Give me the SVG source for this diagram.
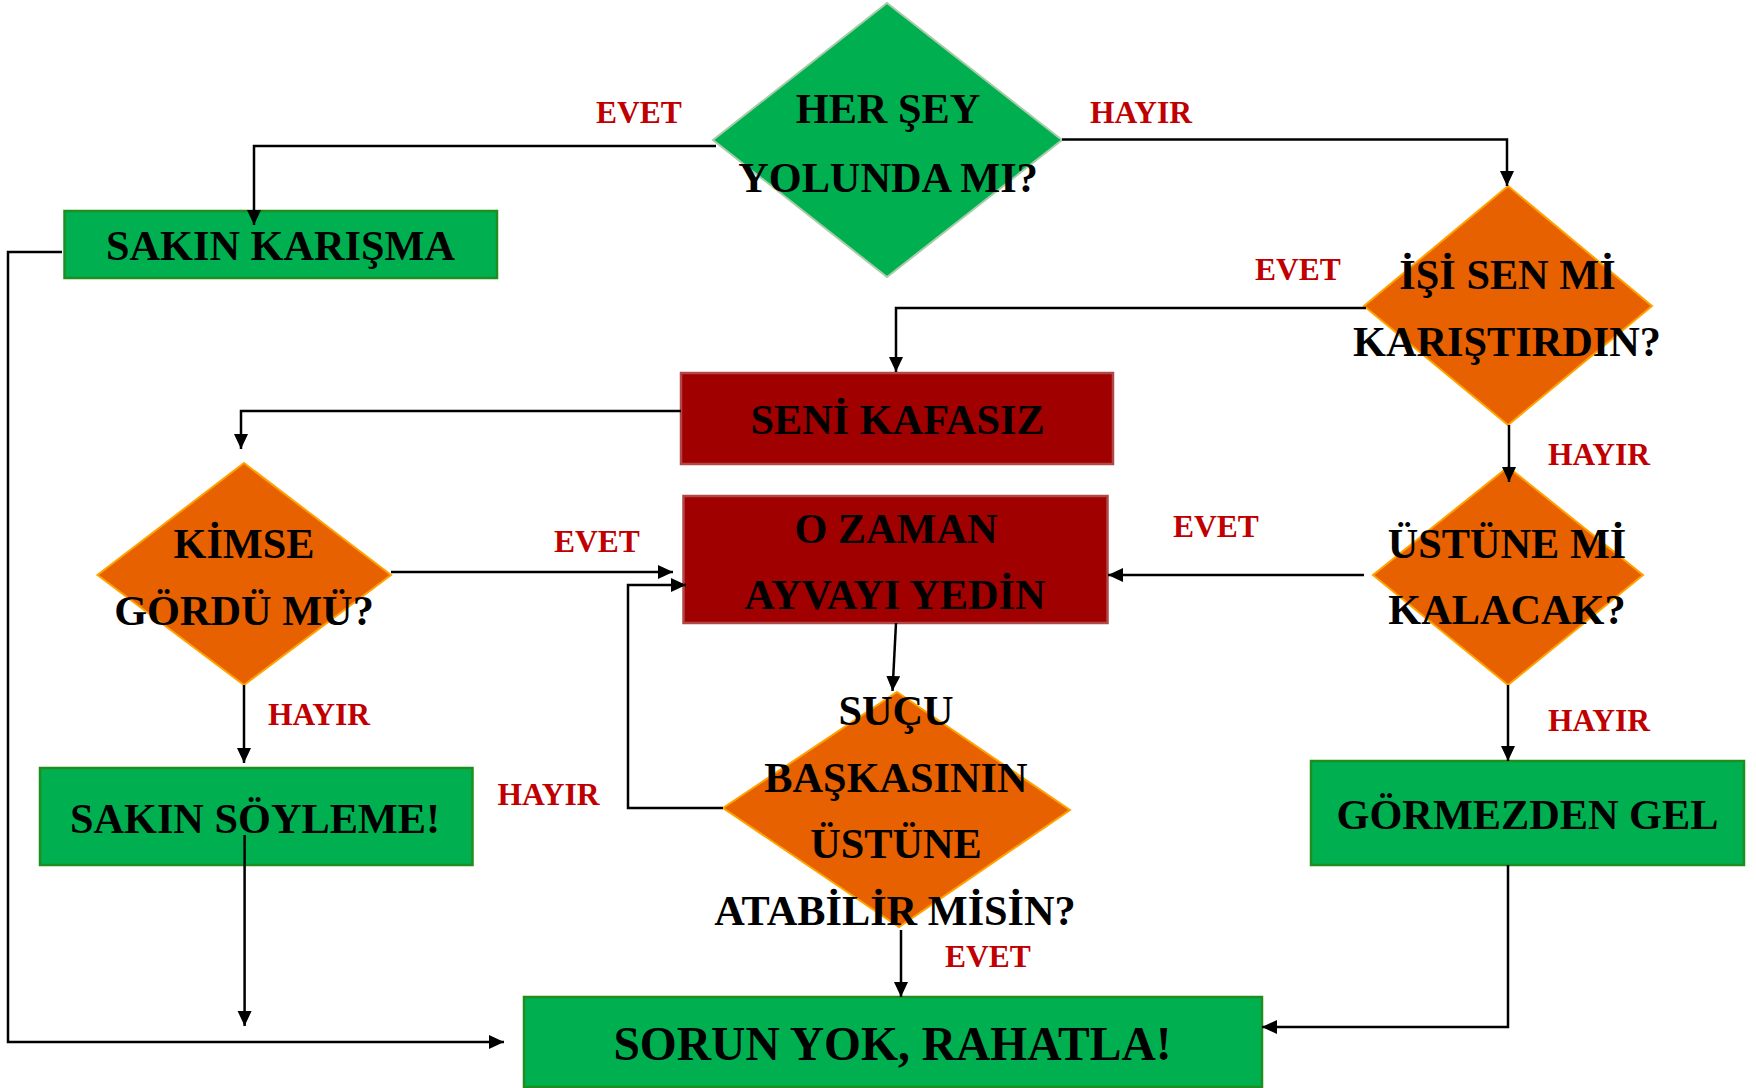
<svg xmlns="http://www.w3.org/2000/svg" width="1756" height="1088" viewBox="0 0 1756 1088">
  <style>
    .t { font-family: "Liberation Serif", "Times New Roman", serif; font-weight: bold; font-size: 42.3px; fill: #000; text-anchor: middle; }
    .big { font-size: 47.5px; }
    .lbl { font-family: "Liberation Serif", "Times New Roman", serif; font-weight: bold; font-size: 31.5px; fill: #C00000; }
    .green { fill: #00B050; stroke: #1E8F1E; stroke-width: 2.5; }
    .gdia { fill: #00B050; stroke: #A9CBA9; stroke-width: 2; }
    .red { fill: #A00000; stroke: #B04848; stroke-width: 2.5; }
    .orange { fill: #E86100; stroke: #FFA200; stroke-width: 2; }
    .link { fill: none; stroke: #000; stroke-width: 2.5; }
  </style>
  <defs>
    <marker id="arrow" markerUnits="userSpaceOnUse" markerWidth="16" markerHeight="16" refX="15" refY="7" orient="auto">
      <path d="M0,0 L15,7 L0,14 Z" fill="#000"/>
    </marker>
  </defs>
  <rect width="1756" height="1088" fill="#fff"/>

  <!-- decision: is everything fine -->
  <g id="n-her-sey">
    <polygon class="gdia" points="887,3 1062,140 887,277 713,140"/>
    <text class="t" x="888" y="123">HER ŞEY</text>
    <text class="t" x="888" y="192">YOLUNDA MI?</text>
  </g>

  <g id="n-sakin-karisma">
    <rect class="green" x="64.5" y="211" width="432.5" height="67"/>
    <text class="t" x="280.5" y="260">SAKIN KARIŞMA</text>
  </g>

  <!-- decision: did you mess it up -->
  <g id="n-isi-sen-mi">
    <polygon class="orange" points="1508,186 1652,306 1508,425 1364,306"/>
    <text class="t" x="1507.5" y="289">İŞİ SEN Mİ</text>
    <text class="t" x="1507" y="356">KARIŞTIRDIN?</text>
  </g>

  <g id="n-seni-kafasiz">
    <rect class="red" x="681" y="373" width="432" height="91"/>
    <text class="t" x="897.5" y="434">SENİ KAFASIZ</text>
  </g>

  <g id="n-kimse">
    <polygon class="orange" points="244,463 391,575 244,685 97.5,575"/>
    <text class="t" x="244" y="558">KİMSE</text>
    <text class="t" x="244" y="625">GÖRDÜ MÜ?</text>
  </g>

  <g id="n-o-zaman">
    <rect class="red" x="683.5" y="496" width="424" height="127"/>
    <text class="t" x="896" y="543">O ZAMAN</text>
    <text class="t" x="895" y="609">AYVAYI YEDİN</text>
  </g>

  <g id="n-ustune-mi">
    <polygon class="orange" points="1508,467 1643,575 1508,685 1373,575"/>
    <text class="t" x="1507" y="558">ÜSTÜNE Mİ</text>
    <text class="t" x="1507" y="624">KALACAK?</text>
  </g>

  <g id="n-sucu">
    <polygon class="orange" points="897,692 1070,810 899,927 723,808"/>
    <text class="t" x="896" y="725">SUÇU</text>
    <text class="t" x="896" y="792">BAŞKASININ</text>
    <text class="t" x="896" y="858">ÜSTÜNE</text>
    <text class="t" x="895" y="925">ATABİLİR MİSİN?</text>
  </g>

  <g id="n-sakin-soyleme">
    <rect class="green" x="40" y="768" width="432.5" height="97"/>
    <text class="t" x="255" y="833">SAKIN SÖYLEME!</text>
  </g>

  <g id="n-gormezden">
    <rect class="green" x="1311" y="761" width="433" height="104"/>
    <text class="t" x="1527.5" y="829">GÖRMEZDEN GEL</text>
  </g>

  <g id="n-sorun-yok">
    <rect class="green" x="524" y="997" width="738" height="90"/>
    <text class="t big" x="892.5" y="1060">SORUN YOK, RAHATLA!</text>
  </g>

  <!-- connectors -->
  <g id="connectors">
    <path class="link" marker-end="url(#arrow)" d="M716,146 H254 V225"/>
    <path class="link" marker-end="url(#arrow)" d="M1062,139.5 H1507 V186"/>
    <path class="link" marker-end="url(#arrow)" d="M1366,308 H896 V372"/>
    <path class="link" marker-end="url(#arrow)" d="M1509,425 V482"/>
    <path class="link" marker-end="url(#arrow)" d="M681,411 H241 V449"/>
    <path class="link" marker-end="url(#arrow)" d="M391,572 H673"/>
    <path class="link" marker-end="url(#arrow)" d="M244,685 V763"/>
    <path class="link" marker-end="url(#arrow)" d="M1364,575 H1108"/>
    <path class="link" marker-end="url(#arrow)" d="M1508,685 V761"/>
    <path class="link" marker-end="url(#arrow)" d="M896,623 L892.5,691"/>
    <path class="link" marker-end="url(#arrow)" d="M723,808 H628 V585 H686"/>
    <path class="link" marker-end="url(#arrow)" d="M901,930 V997"/>
    <path class="link" marker-end="url(#arrow)" d="M244.6,835 V1026"/>
    <path class="link" marker-end="url(#arrow)" d="M62,252 H8 V1042 H504"/>
    <path class="link" marker-end="url(#arrow)" d="M1508,865 V1027 H1262"/>
  </g>

  <!-- branch labels -->
  <g id="labels">
    <text class="lbl" x="596" y="123">EVET</text>
    <text class="lbl" x="1090" y="123">HAYIR</text>
    <text class="lbl" x="1255" y="280">EVET</text>
    <text class="lbl" x="1548" y="465">HAYIR</text>
    <text class="lbl" x="554" y="552">EVET</text>
    <text class="lbl" x="1173" y="537">EVET</text>
    <text class="lbl" x="268" y="725">HAYIR</text>
    <text class="lbl" x="1548" y="731">HAYIR</text>
    <text class="lbl" x="497.5" y="805">HAYIR</text>
    <text class="lbl" x="945" y="967">EVET</text>
  </g>
</svg>
